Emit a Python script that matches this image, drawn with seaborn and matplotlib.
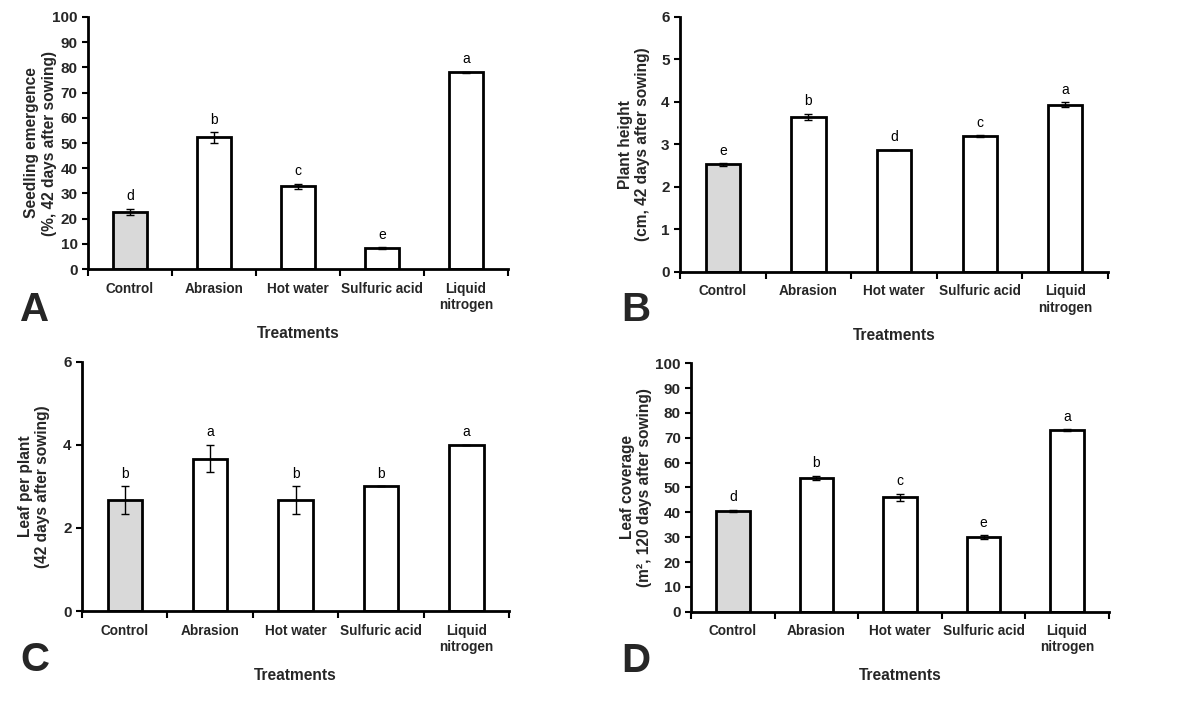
import matplotlib
matplotlib.use("Agg")
import matplotlib.pyplot as plt
import seaborn as sns
import numpy as np
import pandas as pd
from matplotlib.ticker import FixedLocator, MultipleLocator

sns.set_theme(style="white")
plt.rcParams['font.family'] = ['Liberation Sans', 'DejaVu Sans']

categories = ["Control", "Abrasion", "Hot water", "Sulfuric acid", "Liquid\nnitrogen"]

emergence = [22.7, 52.2, 32.8, 8.3, 78.0]
emergence_err = [1.2, 2.0, 1.0, 0.3, 0.3]
emergence_sig = ["d", "b", "c", "e", "a"]

height = [2.53, 3.65, 2.87, 3.20, 3.94]
height_err = [0.03, 0.07, 0.0, 0.02, 0.05]
height_sig = ["e", "b", "d", "c", "a"]

leaves = [2.67, 3.67, 2.67, 3.0, 4.0]
leaves_err = [0.33, 0.33, 0.33, 0.0, 0.0]
leaves_sig = ["b", "a", "b", "b", "a"]

coverage = [40.7, 54.0, 46.0, 30.0, 73.0]
coverage_err = [0.4, 0.8, 1.5, 0.8, 0.4]
coverage_sig = ["d", "b", "c", "e", "a"]

colors = ["#d9d9d9", "white", "white", "white", "white"]

fig = plt.figure(figsize=(12, 7.08), dpi=100)

panels = [
    dict(pos=[0.0733, 0.620, 0.350, 0.356], vals=emergence, err=emergence_err, sig=emergence_sig,
         ylim=100, step=10, ylabel="Seedling emergence\n(%, 42 days after sowing)", letter="A",
         lpos=(0.017, 0.562), labx=-0.074),
    dict(pos=[0.5667, 0.616, 0.3567, 0.360], vals=height, err=height_err, sig=height_sig,
         ylim=6, step=1, ylabel="Plant height\n(cm, 42 days after sowing)", letter="B",
         lpos=(0.518, 0.562), labx=-0.07),
    dict(pos=[0.0683, 0.137, 0.356, 0.352], vals=leaves, err=leaves_err, sig=leaves_sig,
         ylim=6, step=2, ylabel="Leaf per plant\n(42 days after sowing)", letter="C",
         lpos=(0.017, 0.068), labx=-0.075),
    dict(pos=[0.576, 0.136, 0.348, 0.351], vals=coverage, err=coverage_err, sig=coverage_sig,
         ylim=100, step=10, ylabel="Leaf coverage\n(m², 120 days after sowing)", letter="D",
         lpos=(0.518, 0.066), labx=-0.093),
]

for p in panels:
    ax = fig.add_axes(p["pos"])
    df = pd.DataFrame({"Treatment": categories, "Value": p["vals"]})
    sns.barplot(data=df, x="Treatment", y="Value", hue="Treatment", palette=colors,
                legend=False, edgecolor="black", linewidth=2, width=0.4, errorbar=None, ax=ax)
    x = np.arange(len(categories))
    ax.errorbar(x, p["vals"], yerr=p["err"], fmt="none", ecolor="black",
                elinewidth=1, capsize=3, capthick=1)
    for xi, v, e, s in zip(x, p["vals"], p["err"], p["sig"]):
        ax.annotate(s, (xi, v + e), xytext=(0, 4), textcoords="offset points",
                    ha="center", va="bottom", fontsize=10, color="black")
    ax.set_xlim(-0.5, len(categories) - 0.5)
    ax.set_ylim(0, p["ylim"])
    ax.yaxis.set_major_locator(MultipleLocator(p["step"]))
    ax.xaxis.set_minor_locator(FixedLocator(np.arange(-0.5, len(categories), 1.0)))
    ax.tick_params(axis="x", which="major", length=0, pad=9, labelsize=9.8)
    ax.tick_params(axis="x", which="minor", length=5, width=1.5, direction="out", bottom=True, color="black")
    ax.tick_params(axis="y", which="major", length=4, width=1.5, direction="out", left=True,
                   labelsize=11, color="black")
    for lab in ax.get_xticklabels() + ax.get_yticklabels():
        lab.set_fontweight("bold")
    for side in ["top", "right"]:
        ax.spines[side].set_visible(False)
    for side in ["left", "bottom"]:
        ax.spines[side].set_color("black")
        ax.spines[side].set_linewidth(2)
    ax.set_xlabel("Treatments", fontsize=11.2, fontweight="bold", labelpad=10)
    ax.set_ylabel(p["ylabel"], fontsize=11.2, fontweight="bold")
    ax.yaxis.set_label_coords(p["labx"], 0.5)
    fig.text(p["lpos"][0], p["lpos"][1], p["letter"], fontsize=29, fontweight="bold",
             ha="left", va="center")

fig.savefig("out.png", dpi=100)
